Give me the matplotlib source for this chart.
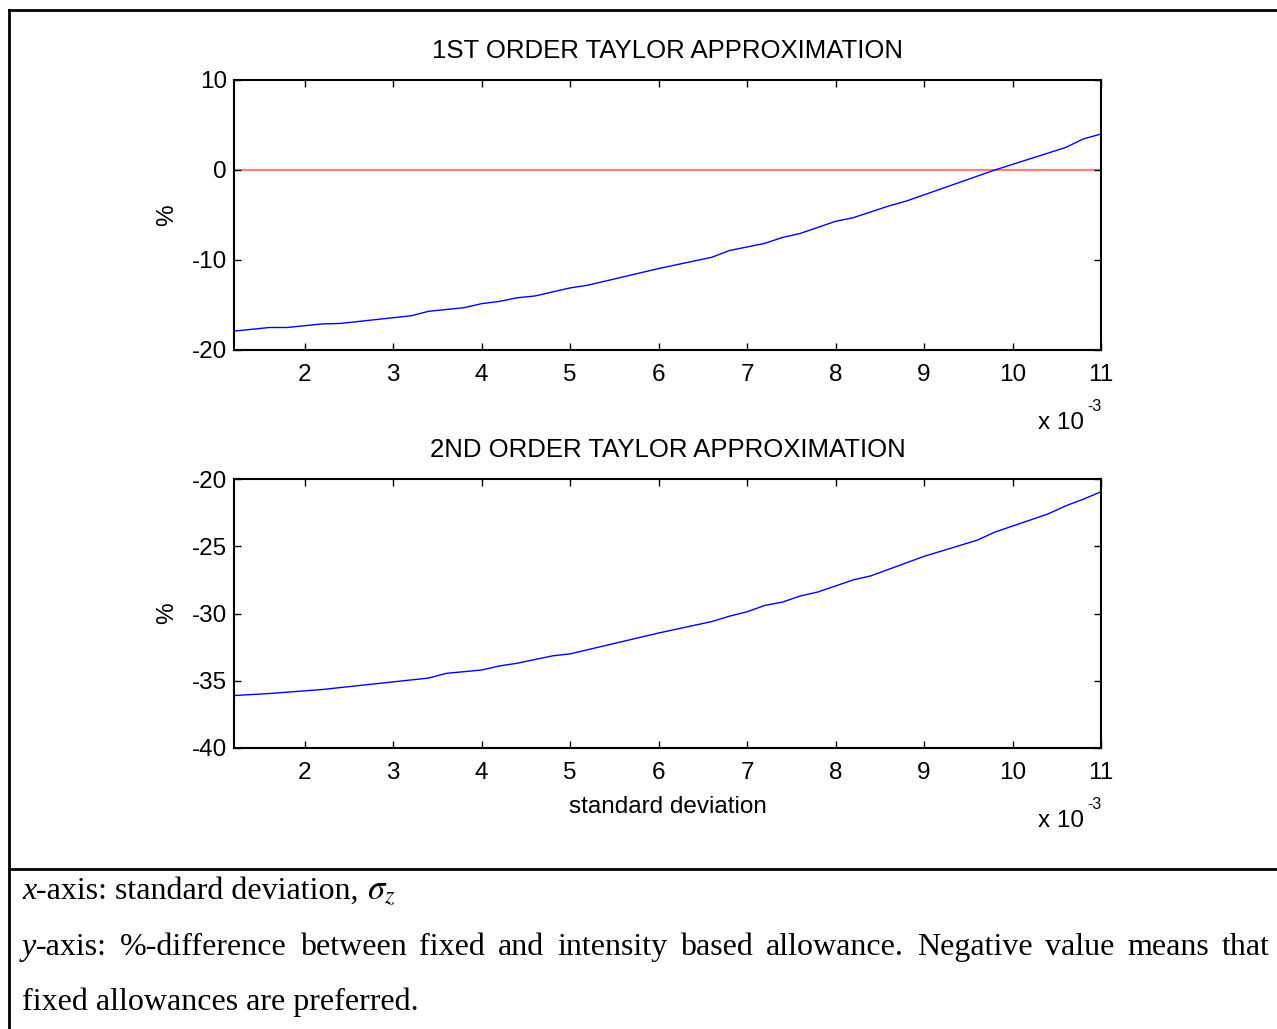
import matplotlib
matplotlib.use('Agg')
import matplotlib.pyplot as plt
from matplotlib.lines import Line2D

# sigma in units of 1e-3, % difference
sigma_1 = [1.2, 1.6, 1.8, 2.2, 2.4, 3.2, 3.4, 3.8, 4.0, 4.2, 4.4, 4.6, 5.0, 5.2,
           6.0, 6.6, 6.8, 7.2, 7.4, 7.6, 8.0, 8.2, 8.6, 8.8, 9.8, 10.6, 10.8, 11.0]
diff_1 = [-17.9, -17.5, -17.5, -17.1, -17.05, -16.2, -15.7, -15.3, -14.85, -14.6, -14.2, -14.0, -13.1, -12.8,
          -10.95, -9.7, -8.95, -8.15, -7.5, -7.05, -5.7, -5.3, -4.0, -3.45, 0.0, 2.5, 3.45, 4.0]
sigma_2 = [1.2, 1.6, 2.2, 3.4, 3.6, 4.0, 4.2, 4.4, 4.8, 5.0, 6.0, 6.6, 6.8, 7.0,
           7.2, 7.4, 7.6, 7.8, 8.2, 8.4, 9.0, 9.6, 9.8, 10.4, 10.6, 10.8, 11.0]
diff_2 = [-36.1, -35.95, -35.65, -34.8, -34.45, -34.2, -33.9, -33.7, -33.15, -33.0, -31.45, -30.6, -30.2, -29.87,
          -29.4, -29.15, -28.7, -28.4, -27.5, -27.2, -25.75, -24.55, -23.95, -22.6, -22.0, -21.5, -20.95]
x_ticks = [2, 3, 4, 5, 6, 7, 8, 9, 10, 11]
y_ticks_1 = [-20, -10, 0, 10]
y_ticks_2 = [-40, -35, -30, -25, -20]
titles = ['1ST ORDER TAYLOR APPROXIMATION', '2ND ORDER TAYLOR APPROXIMATION']

plt.rcParams['font.family'] = ['Liberation Sans', 'DejaVu Sans']
plt.rcParams['axes.unicode_minus'] = False
W, H = 1277, 1029
fig = plt.figure(figsize=(W / 100, H / 100), dpi=100)
FS = 17.5

ax1 = fig.add_axes([234 / W, 1 - 350 / H, 867 / W, 270 / H])
ax2 = fig.add_axes([234 / W, 1 - 748 / H, 867 / W, 269 / H])

ax1.plot(sigma_1, diff_1, color='blue', lw=1)
ax1.axhline(0, color='#ff8080', lw=1.6, zorder=1)
ax1.set_ylim(-20, 10)
ax1.set_yticks(y_ticks_1)
ax2.plot(sigma_2, diff_2, color='blue', lw=1)
ax2.set_ylim(-40, -20)
ax2.set_yticks(y_ticks_2)
ax2.set_xlabel('standard deviation', fontsize=FS, labelpad=9)

for ax, t in zip((ax1, ax2), titles):
    ax.set_xlim(1.2, 11)
    ax.set_xticks(x_ticks)
    ax.set_title(t, fontsize=18.5, pad=15.5)
    ax.set_ylabel('%', fontsize=FS, labelpad=10)
    ax.tick_params(direction='in', length=5, width=1, top=True, right=True, labelsize=FS)
    ax.tick_params(axis='x', pad=10)
    ax.tick_params(axis='y', pad=5)
    for sp in ax.spines.values():
        sp.set_linewidth(1.5)
    # MATLAB style exponent label
    ax.annotate('-3', xy=(1, 0), xycoords='axes fraction', xytext=(0, -44),
                textcoords='offset points', ha='right', va='baseline', fontsize=11.5)
    ax.annotate('x 10', xy=(1, 0), xycoords='axes fraction', xytext=(-12, -57),
                textcoords='offset points', ha='right', va='baseline', fontsize=FS)

# table cell borders
for (x0, y0, x1, y1) in [(8.5, 9.5, W, 9.5), (8.5, 9.5, 8.5, H), (8.5, 869, W, 869)]:
    fig.add_artist(Line2D([x0 / W, x1 / W], [1 - y0 / H, 1 - y1 / H],
                          transform=fig.transFigure, color='black', lw=2))

# caption below the chart
fig.canvas.draw()
r = fig.canvas.get_renderer()
SERIF = dict(family='Liberation Serif', fontsize=23)


def width(s, **kw):
    t = fig.text(0, 0, s, **kw)
    w = t.get_window_extent(r).width
    t.remove()
    return w


def draw_word(word, x, y):
    for s, kw in word:
        fig.text(x / W, 1 - y / H, s, va='baseline', **kw)
        x += width(s, **kw)
    return x


reg = dict(SERIF)
ita = dict(SERIF, style='italic')
space = width('a a', **reg) - width('aa', **reg)

x = draw_word([('x', ita), ('-axis: standard deviation,', reg)], 22, 899)
fig.text((x + space) / W, 1 - 899 / H, r'$\sigma_z$', va='baseline', math_fontfamily='stix', fontsize=25)

words = [[('y', ita), ('-axis:', reg)]] + [[(w, reg)] for w in
         '%-difference between fixed and intensity based allowance. Negative value means that'.split()]
wsum = sum(sum(width(s, **kw) for s, kw in wd) for wd in words)
gap = (1270 - 22 - wsum) / (len(words) - 1)
x = 22
for wd in words:
    x = draw_word(wd, x, 955) + gap

draw_word([('fixed allowances are preferred.', reg)], 22, 1010)

fig.savefig('out.png', dpi=100)
